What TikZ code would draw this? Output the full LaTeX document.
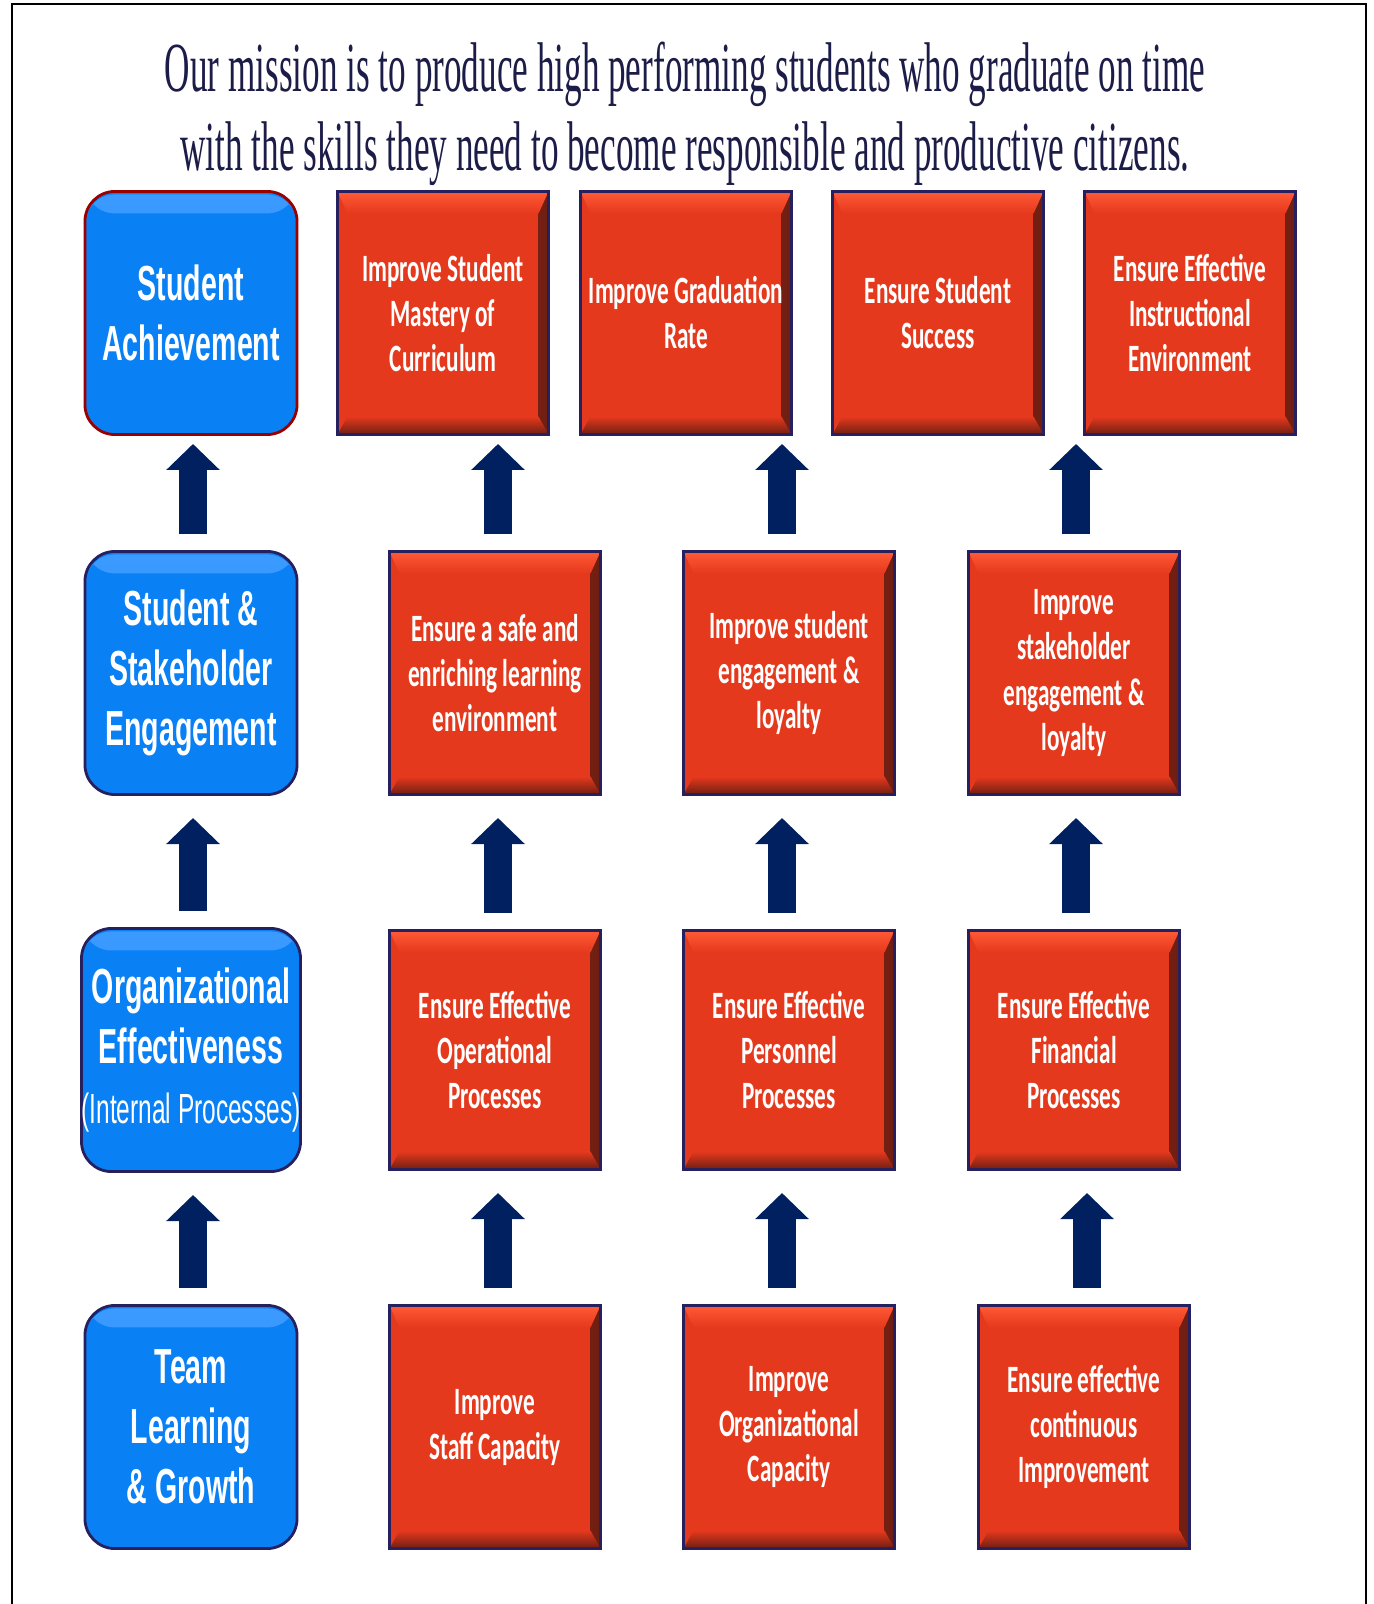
\documentclass[tikz,border=0pt]{standalone}
\usepackage{fontspec}
\usepackage{tikz}
\usepackage{xcolor}
\usetikzlibrary{arrows.meta, calc, positioning}

\newfontfamily\missionfont[FakeStretch=0.5]{Liberation Serif}
\newfontfamily\pillarfont[FakeStretch=0.58]{Liberation Sans}
\newfontfamily\goalfont[FakeStretch=0.6]{Carlito}

\definecolor{redfill}{HTML}{E5391D}
\definecolor{redtop}{HTML}{FF5A36}
\definecolor{reddark}{HTML}{6E1E12}
\definecolor{navyedge}{HTML}{26205E}
\definecolor{bluefill}{HTML}{0A80F5}
\definecolor{bluetop}{HTML}{3D9BFF}
\definecolor{arrowblue}{HTML}{002060}
\definecolor{inkblue}{HTML}{1C1C48}

\tikzset{
    mission/.style={align=center, text=inkblue, font=\missionfont\fontsize{20}{22.5}\selectfont},
    pillar/.style={draw=navyedge, line width=0.8pt, fill=bluefill, rounded corners=0.3cm,
        minimum width=2.12cm, minimum height=2.43cm, inner sep=0pt, align=center, text=white,
        font=\pillarfont\bfseries\fontsize{14}{17}\selectfont,
        path picture={
            \shade[top color=bluetop, bottom color=bluefill]
                ([shift={(0,3)}]path picture bounding box.north west) rectangle
                ([shift={(0,22)}]path picture bounding box.north east);
        }},
    goal/.style={draw=navyedge, line width=0.8pt, fill=redfill,
        minimum width=2.11cm, minimum height=2.43cm, inner sep=0pt, align=center, text=white,
        font=\goalfont\bfseries\fontsize{11}{12.8}\selectfont,
        path picture={
            \shade[left color=redfill, right color=reddark]
                ([shift={(-10,0)}]path picture bounding box.north east) rectangle
                (path picture bounding box.south east);
            \shade[top color=redtop, bottom color=redfill]
                (path picture bounding box.north west) -- (path picture bounding box.north east)
                -- ([shift={(-10,22)}]path picture bounding box.north east)
                -- ([shift={(10,22)}]path picture bounding box.north west) -- cycle;
            \shade[top color=redfill, bottom color=reddark]
                (path picture bounding box.south west) -- (path picture bounding box.south east)
                -- ([shift={(-10,-18)}]path picture bounding box.south east)
                -- ([shift={(10,-18)}]path picture bounding box.south west) -- cycle;
        }},
    up/.style={draw=arrowblue, line width=0.28cm, -{Triangle[length=0.26cm, width=0.52cm]},
        shorten <=0.16cm}
}

\begin{document}
\begin{tikzpicture}[x=0.01cm, y=-0.01cm]
    \useasboundingbox (0, 0) rectangle (1373, 1604);
    \draw[line width=0.025cm] (12, 1604) -- (12, 4) -- (1366, 4) -- (1366, 1604);

    \node[mission] (m) at (685, 114) {Our mission is to produce high performing students who graduate on time\\
        with the skills they need to become responsible and productive citizens.};

    \node[pillar, draw=red!60!black] (p1) at (191, 313) {Student\\Achievement};
    \node[pillar] (p2) at (191, 673) {Student \&\\Stakeholder\\Engagement};
    \node[pillar] (p3) at (191, 1050) {Organizational\\Effectiveness\\{\mdseries\fontsize{12}{17}\selectfont(Internal Processes)}};
    \node[pillar] (p4) at (191, 1427) {Team\\Learning\\\& Growth};

    \node[goal] (a1) at (443, 313) {Improve Student\\Mastery of\\Curriculum};
    \node[goal] (a2) at (686, 313) {Improve Graduation\\Rate};
    \node[goal] (a3) at (938, 313) {Ensure Student\\Success};
    \node[goal] (a4) at (1190, 313) {Ensure Effective\\Instructional\\Environment};

    \node[goal] (b1) at (495, 673) {Ensure a safe and\\enriching learning\\environment};
    \node[goal] (b2) at (789, 673) {Improve student\\engagement \&\\loyalty};
    \node[goal] (b3) at (1074, 673) {Improve\\stakeholder\\engagement \&\\loyalty};

    \node[goal, minimum height=2.39cm] (c1) at (495, 1050) {Ensure Effective\\Operational\\Processes};
    \node[goal, minimum height=2.39cm] (c2) at (789, 1050) {Ensure Effective\\Personnel\\Processes};
    \node[goal, minimum height=2.39cm] (c3) at (1074, 1050) {Ensure Effective\\Financial\\Processes};

    \node[goal] (d1) at (495, 1427) {Improve\\Staff Capacity};
    \node[goal] (d2) at (789, 1427) {Improve\\Organizational\\Capacity};
    \node[goal] (d3) at (1084, 1427) {Ensure effective\\continuous\\Improvement};

    \foreach \lo/\hi/\gap/\dx in {p2/p1/0.08/2, b1/a1/0.08/3, b2/a2/0.08/-7, b3/a4/0.08/2,
                                  p3/p2/0.22/2, c1/b1/0.22/3, c2/b2/0.22/-7, c3/b3/0.22/2,
                                  p4/p3/0.22/2, d1/c1/0.22/3, d2/c2/0.22/-7, d3/c3/0.22/3} {
        \draw[up, shorten >=\gap cm] ([xshift=\dx*0.01cm]\lo.north) -- ([xshift=\dx*0.01cm]\lo.north |- \hi.south);
    }
\end{tikzpicture}
\end{document}
